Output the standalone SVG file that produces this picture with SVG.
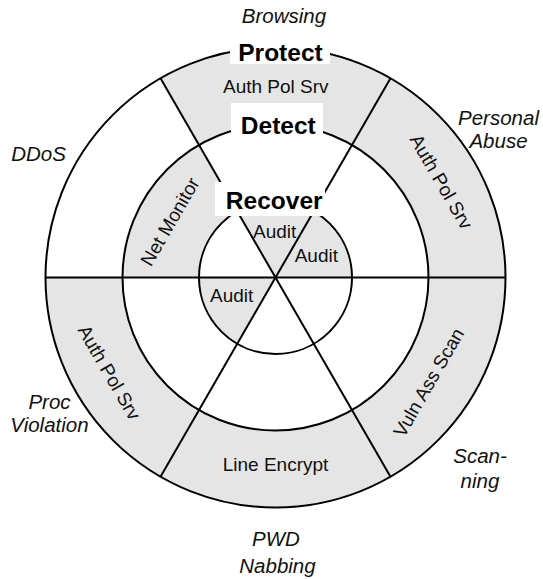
<svg xmlns="http://www.w3.org/2000/svg" width="543" height="579" viewBox="0 0 543 579">
  <style>
    .fill { fill: #e5e5e5; stroke: none; }
    .ln { fill: none; stroke: #000; stroke-width: 2; }
    .box { fill: #fff; stroke: none; }
    .reg { font-family: "Liberation Sans", Arial, sans-serif; font-size: 19px; fill: #111; text-anchor: middle; }
    .bold { font-family: "Liberation Sans", Arial, sans-serif; font-size: 24.5px; font-weight: bold; fill: #000; text-anchor: middle; }
    .ital { font-family: "Liberation Sans", Arial, sans-serif; font-size: 20.5px; font-style: italic; fill: #111; text-anchor: middle; }
  </style>
  <rect width="543" height="579" fill="#fff"/>
  <g id="shading">
    <path class="fill" d="M160.5,78.31 A230,230 0 1 1 45.5,277.5 L122.5,277.5 A153,153 0 1 0 199,145 Z"/>
    <path class="fill" d="M199,145 A153,153 0 0 0 122.5,277.5 L199,277.5 A76.5,76.5 0 0 1 237.25,211.25 Z"/>
    <path class="fill" d="M275.5,277.5 L352,277.5 A76.5,76.5 0 0 0 237.25,211.25 Z"/>
    <path class="fill" d="M275.5,277.5 L199,277.5 A76.5,76.5 0 0 0 237.25,343.75 Z"/>
  </g>
  <g id="rings">
    <circle class="ln" cx="275.5" cy="277.5" r="230"/>
    <circle class="ln" cx="275.5" cy="277.5" r="153"/>
    <circle class="ln" cx="275.5" cy="277.5" r="76.5"/>
  </g>
  <g id="connectors">
    <line class="ln" x1="45.5" y1="277.5" x2="505.5" y2="277.5"/>
    <line class="ln" x1="160.5" y1="78.31" x2="390.5" y2="476.69"/>
    <line class="ln" x1="390.5" y1="78.31" x2="160.5" y2="476.69"/>
  </g>
  <g id="layer-protect">
    <rect class="box" x="230" y="31" width="100" height="33"/>
    <text class="bold" x="280.5" y="60.7">Protect</text>
  </g>
  <g id="layer-detect">
    <rect class="box" x="231" y="103" width="92" height="34"/>
    <text class="bold" x="278.3" y="134">Detect</text>
  </g>
  <g id="layer-recover">
    <rect class="box" x="215" y="182" width="110" height="34"/>
    <text class="bold" x="274.2" y="209.3">Recover</text>
  </g>
  <g id="protect-items">
    <text class="reg" x="275.8" y="92.7">Auth Pol Srv</text>
    <text class="reg" transform="translate(441.3,181.75) rotate(60)" y="6.5">Auth Pol Srv</text>
    <text class="reg" transform="translate(428.8,382.5) rotate(-60)" y="6.5">Vuln Ass Scan</text>
    <text class="reg" x="275.5" y="470.7">Line Encrypt</text>
    <text class="reg" transform="translate(109.2,372.5) rotate(60)" y="6.5">Auth Pol Srv</text>
  </g>
  <g id="detect-items">
    <text class="reg" transform="translate(170,221.7) rotate(-60)" y="6.5">Net Monitor</text>
  </g>
  <g id="recover-items">
    <text class="reg" x="274.7" y="238.3">Audit</text>
    <text class="reg" x="316.3" y="261.7">Audit</text>
    <text class="reg" x="231.7" y="301.7">Audit</text>
  </g>
  <g id="threats">
    <text class="ital" x="284" y="22.7">Browsing</text>
    <text class="ital" x="498.5" y="125">Personal</text>
    <text class="ital" x="498.5" y="148.3">Abuse</text>
    <text class="ital" x="38.5" y="160.7">DDoS</text>
    <text class="ital" x="49.5" y="409">Proc</text>
    <text class="ital" x="49.5" y="432">Violation</text>
    <text class="ital" x="480" y="462.7">Scan-</text>
    <text class="ital" x="480" y="488.3">ning</text>
    <text class="ital" x="276" y="546">PWD</text>
    <text class="ital" x="277.5" y="572.7">Nabbing</text>
  </g>
</svg>
